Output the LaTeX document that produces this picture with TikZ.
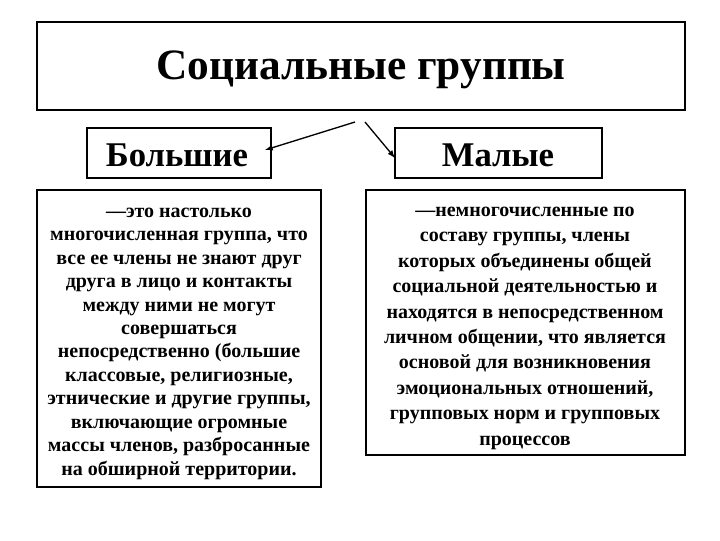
\documentclass[tikz,border=0pt]{standalone}
\usepackage{fontspec}
\setmainfont{Liberation Serif}
\begin{document}
\begin{tikzpicture}[x=0.75pt,y=-0.75pt,
 box/.style={draw,line width=0.8pt},
 body/.style={align=center,font=\bfseries\fontsize{15}{17.6}\selectfont,anchor=north},
 bodyr/.style={align=center,font=\bfseries\fontsize{15}{19.1}\selectfont,anchor=north},
 arr/.style={-latex,line width=1pt}]
\useasboundingbox (0,0) rectangle (720,540);
\draw[box] (37,22) rectangle (685,110);
\node (title) at (361,70) {\bfseries\fontsize{32.5}{38}\selectfont Социальные группы};
\draw[box] (87,128) rectangle (271,178);
\node (big) at (177,155) {\bfseries\fontsize{26}{30}\selectfont Большие};
\draw[box] (395,128) rectangle (602,178);
\node (small) at (498,155) {\bfseries\fontsize{26}{30}\selectfont Малые};
\coordinate (s1) at (355,122);
\coordinate (s2) at (365,122);
\coordinate (e1) at (265,150);
\coordinate (e2) at (395,158);
\draw[arr] (s1) -- (e1);
\draw[arr] (s2) -- (e2);
\draw[box] (37,190) rectangle (321,487);
\node[body] (lt) at (179,203) {—это настолько\\многочисленная группа, что\\все ее члены не знают друг\\друга в лицо и контакты\\между ними не могут\\совершаться\\непосредственно (большие\\классовые, религиозные,\\этнические и другие группы,\\включающие огромные\\массы членов, разбросанные\\на обширной территории.};
\draw[box] (366,190) rectangle (685,455);
\node[bodyr] (rt) at (525,202) {—немногочисленные по\\составу группы, члены\\которых объединены общей\\социальной деятельностью и\\находятся в непосредственном\\личном общении, что является\\основой для возникновения\\эмоциональных отношений,\\групповых норм и групповых\\процессов};
\end{tikzpicture}
\end{document}
